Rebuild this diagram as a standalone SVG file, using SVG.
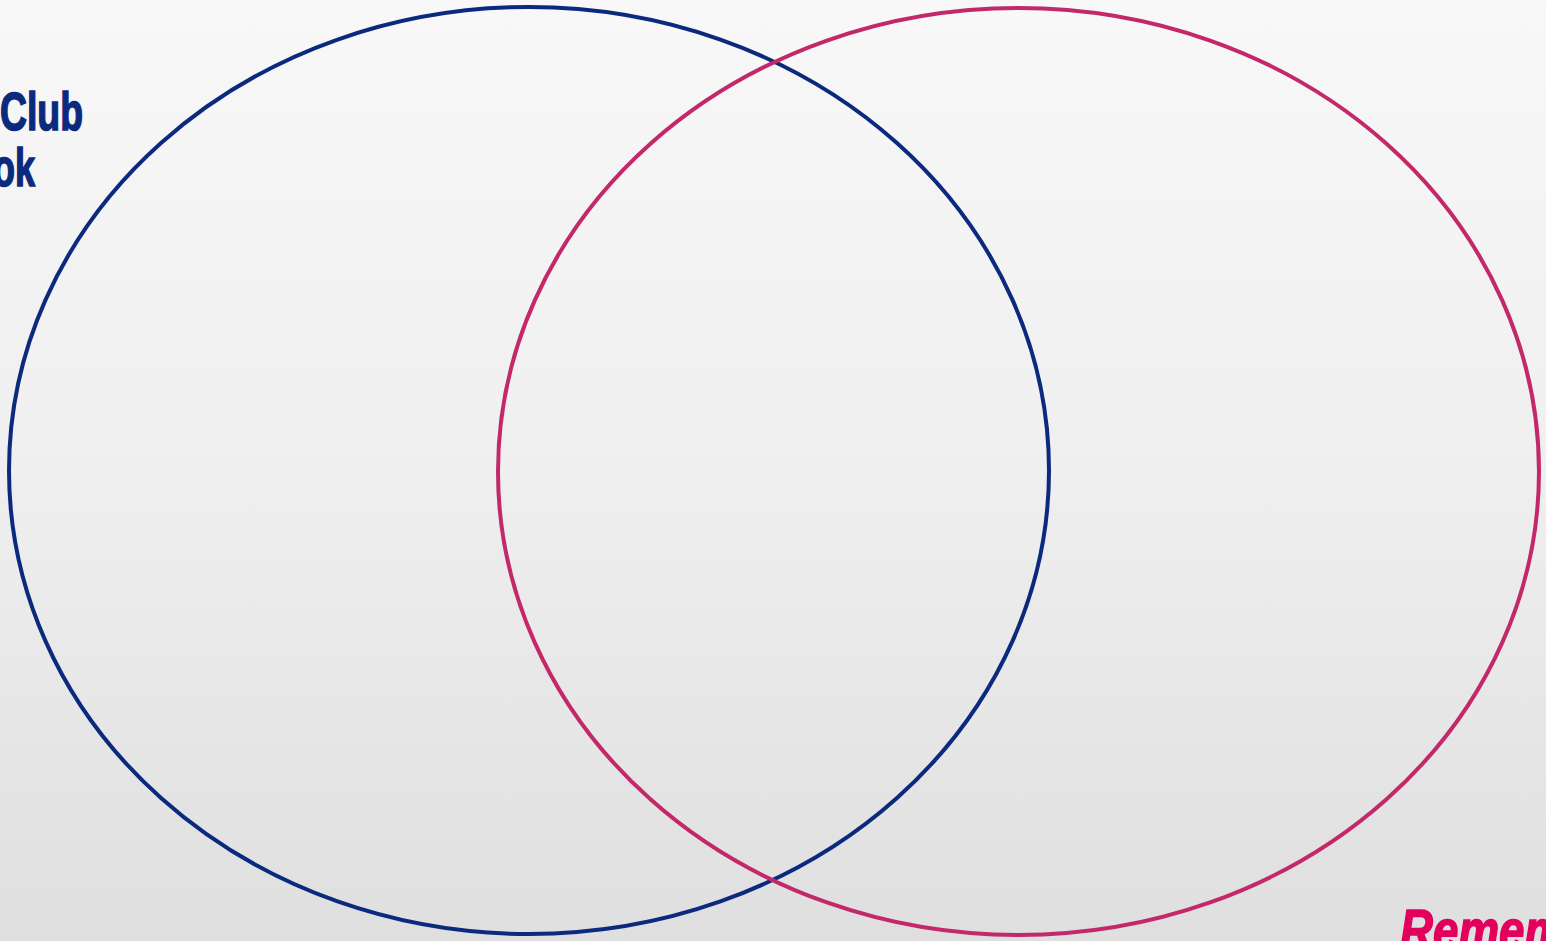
<svg xmlns="http://www.w3.org/2000/svg" width="1546" height="941" viewBox="0 0 1546 941">
<style>
.ring{fill:none;stroke-width:4}
.title{font-family:"Liberation Sans",Arial,sans-serif;font-weight:bold;fill:#0b2a7e;stroke:#0b2a7e;stroke-width:1.6;font-size:53px}
.note{font-family:"Liberation Sans",Arial,sans-serif;font-weight:bold;font-style:italic;fill:#e3005c;stroke:#e3005c;stroke-width:1.6;font-size:58px}
</style>
<defs>
<linearGradient id="bg" x1="0" y1="0" x2="0" y2="1">
<stop offset="0" stop-color="#f8f8f8"/>
<stop offset="0.5" stop-color="#efefef"/>
<stop offset="1" stop-color="#dfdfdf"/>
</linearGradient>
</defs>
<rect width="1546" height="941" fill="url(#bg)"/>
<g id="title">
<text class="title" x="0" y="130" textLength="83" lengthAdjust="spacingAndGlyphs">Club</text>
<text class="title" x="-7" y="186" textLength="42" lengthAdjust="spacingAndGlyphs">ok</text>
</g>
<g id="left-set"><ellipse class="ring" cx="529" cy="470.5" rx="520" ry="463.5" stroke="#0b2a7e"/></g>
<g id="right-set"><ellipse class="ring" cx="1018.5" cy="471.5" rx="520.5" ry="463.5" stroke="#c2286a"/></g>
<g id="connectors"></g>
<g id="note"><text class="note" x="1400" y="950" textLength="165" lengthAdjust="spacingAndGlyphs">Remem</text></g>
</svg>
